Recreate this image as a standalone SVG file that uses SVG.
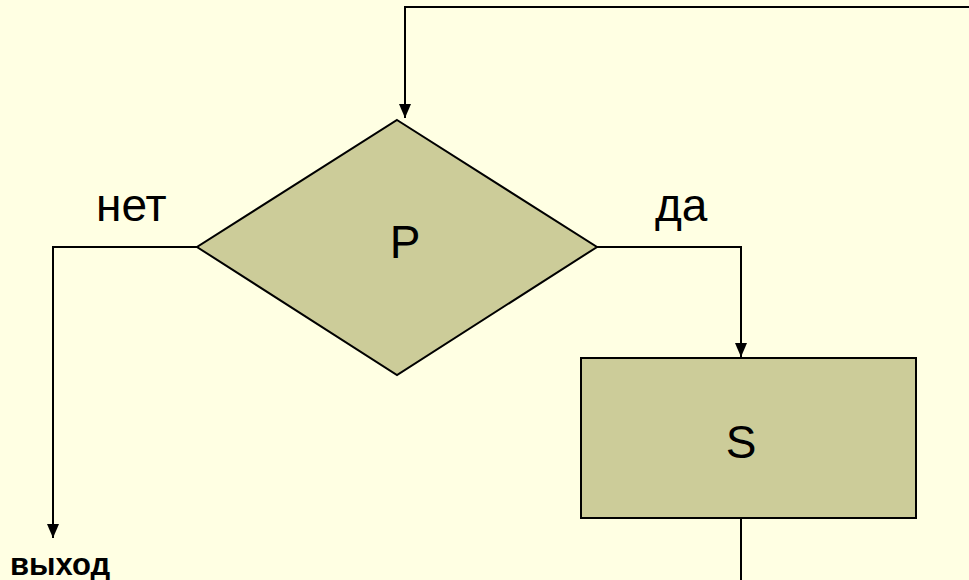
<svg xmlns="http://www.w3.org/2000/svg" width="969" height="580" viewBox="0 0 969 580">
<defs>
<style>
.shape{fill:#CCCC99;stroke:#000;stroke-width:2}
.line{fill:none;stroke:#000;stroke-width:2}
.t{font-family:"Liberation Sans",Arial,sans-serif;font-size:46px;fill:#000}
.b{font-family:"Liberation Sans",Arial,sans-serif;font-size:31px;font-weight:bold;fill:#000}
</style>
<marker id="a" viewBox="0 0 14 12" refX="14" refY="6" markerWidth="14" markerHeight="12" orient="auto" markerUnits="userSpaceOnUse">
<path d="M0,0 L14,6 L0,12 Z" fill="#000"/>
</marker>
</defs>
<rect width="969" height="580" fill="#FFFFE3"/>
<g id="connectors">
<path class="line" d="M969,7 H405 V118" marker-end="url(#a)"/>
<path class="line" d="M597,247 H741 V357" marker-end="url(#a)"/>
<path class="line" d="M197,247 H53 V538" marker-end="url(#a)"/>
<path class="line" d="M741,519 V580"/>
</g>
<g id="decision">
<polygon class="shape" points="397,120 597,247 397,375 197,247"/>
<text class="t" x="405" y="258" text-anchor="middle">P</text>
</g>
<g id="process">
<rect class="shape" x="581" y="358" width="335" height="160"/>
<text class="t" x="741" y="458" text-anchor="middle">S</text>
</g>
<g id="labels">
<text class="t" x="96" y="221">нет</text>
<text class="t" x="655" y="221">да</text>
<text class="b" x="10" y="575">выход</text>
</g>
</svg>
